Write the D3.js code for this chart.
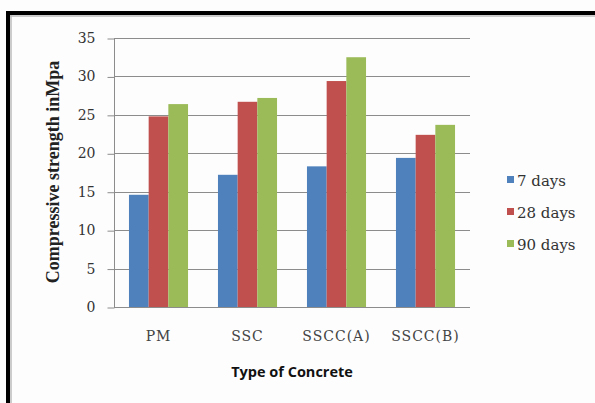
<!DOCTYPE html>
<html><head><meta charset="utf-8">
<script src="https://cdn.jsdelivr.net/npm/d3@7"></script>
<style>html,body{margin:0;padding:0;background:#fff;}svg{display:block;}</style>
</head><body>
<script>
const categories = ["PM", "SSC", "SSCC(A)", "SSCC(B)"];
const seriesNames = ["7 days", "28 days", "90 days"];
const days7 = [14.6, 17.2, 18.3, 19.4];
const days28 = [24.8, 26.7, 29.4, 22.4];
const days90 = [26.4, 27.2, 32.5, 23.7];
const yTicks = [0, 5, 10, 15, 20, 25, 30, 35];
const colors = ["#4F81BD", "#C0504D", "#9BBB59"];
const seriesValues = [days7, days28, days90];

const W = 595, H = 403;
const svg = d3.select("body").append("svg").attr("width", W).attr("height", H);
svg.append("rect").attr("width", W).attr("height", H).attr("fill", "#fdfdfd");
// frame
svg.append("rect").attr("x", 6).attr("y", 11).attr("width", W - 6).attr("height", 4).attr("fill", "#000");
svg.append("rect").attr("x", 6).attr("y", 11).attr("width", 4).attr("height", H - 11).attr("fill", "#000");
svg.append("line").attr("x1", 10).attr("x2", W).attr("y1", 16).attr("y2", 16).attr("stroke", "#bbb").attr("stroke-width", 1.5);
svg.append("line").attr("x1", 11).attr("x2", 11).attr("y1", 15).attr("y2", H).attr("stroke", "#bbb").attr("stroke-width", 1.5);

const plot = {left: 114, right: 470, top: 38, bottom: 307};
const x = d3.scaleBand().domain(categories).range([plot.left, plot.right]).paddingInner(0).paddingOuter(0);
const y = d3.scaleLinear().domain([0, 35]).range([plot.bottom, plot.top]);
const xs = d3.scaleBand().domain(seriesNames).range([0, x.bandwidth()]).paddingInner(0).paddingOuter(0.76);

// gridlines
svg.append("g").selectAll("line").data(yTicks.filter(d => d > 0)).join("line")
  .attr("x1", plot.left).attr("x2", plot.right)
  .attr("y1", d => Math.round(y(d)) + 0.5).attr("y2", d => Math.round(y(d)) + 0.5)
  .attr("stroke", "#8c8c8c").attr("stroke-width", 1);

// bars
const data = [];
categories.forEach((c, i) => seriesNames.forEach((s, j) => data.push({c, s, v: seriesValues[j][i], j})));
svg.append("g").selectAll("rect").data(data).join("rect")
  .attr("x", d => x(d.c) + xs(d.s))
  .attr("width", xs.bandwidth())
  .attr("y", d => y(d.v))
  .attr("height", d => y(0) - y(d.v))
  .attr("fill", d => colors[d.j]);

// y axis
const yAxis = d3.axisLeft(y).tickValues(yTicks).tickSize(7).tickPadding(12).tickFormat(d3.format("d"));
const gy = svg.append("g").attr("transform", `translate(${plot.left + 0.5},0)`).call(yAxis);
gy.select(".domain").attr("stroke", "#8c8c8c").attr("d", `M0,${plot.top}V${plot.bottom}`);
gy.selectAll(".tick line").attr("stroke", "#8c8c8c").attr("transform", "translate(0,0.5)");
gy.selectAll(".tick text").attr("font-family", "'DejaVu Serif', serif").attr("font-size", 14).attr("fill", "#333");

// x axis baseline
svg.append("line").attr("x1", plot.left).attr("x2", plot.right).attr("y1", plot.bottom + 0.5).attr("y2", plot.bottom + 0.5)
  .attr("stroke", "#8c8c8c");
const xAxis = d3.axisBottom(x).tickSize(0).tickPadding(24);
const gx = svg.append("g").attr("transform", `translate(0,${plot.bottom})`).call(xAxis);
gx.select(".domain").remove();
gx.selectAll(".tick text").attr("font-family", "'DejaVu Serif', serif").attr("font-size", 14).attr("fill", "#444")
  .attr("letter-spacing", 1);

// axis titles
svg.append("text").attr("x", 292).attr("y", 377).attr("text-anchor", "middle")
  .attr("font-family", "'Open Sans', sans-serif").attr("font-weight", "bold").attr("font-size", 14.5).attr("fill", "#111")
  .text("Type of Concrete");
svg.append("text").attr("transform", "translate(59,172) rotate(-90)").attr("text-anchor", "middle")
  .attr("font-family", "'Liberation Serif', serif").attr("font-weight", "bold").attr("font-size", 18).attr("fill", "#222")
  .text("Compressive strength inMpa");

// legend
const leg = svg.append("g").selectAll("g").data(seriesNames).join("g")
  .attr("transform", (d, i) => `translate(507,${180 + i * 32})`);
leg.append("rect").attr("x", 0).attr("y", -4).attr("width", 7).attr("height", 7).attr("fill", (d, i) => colors[i]);
leg.append("text").attr("x", 10).attr("y", 5.5).attr("font-family", "'DejaVu Serif', serif").attr("font-size", 15).attr("fill", "#333")
  .text(d => d);
</script>
</body></html>
